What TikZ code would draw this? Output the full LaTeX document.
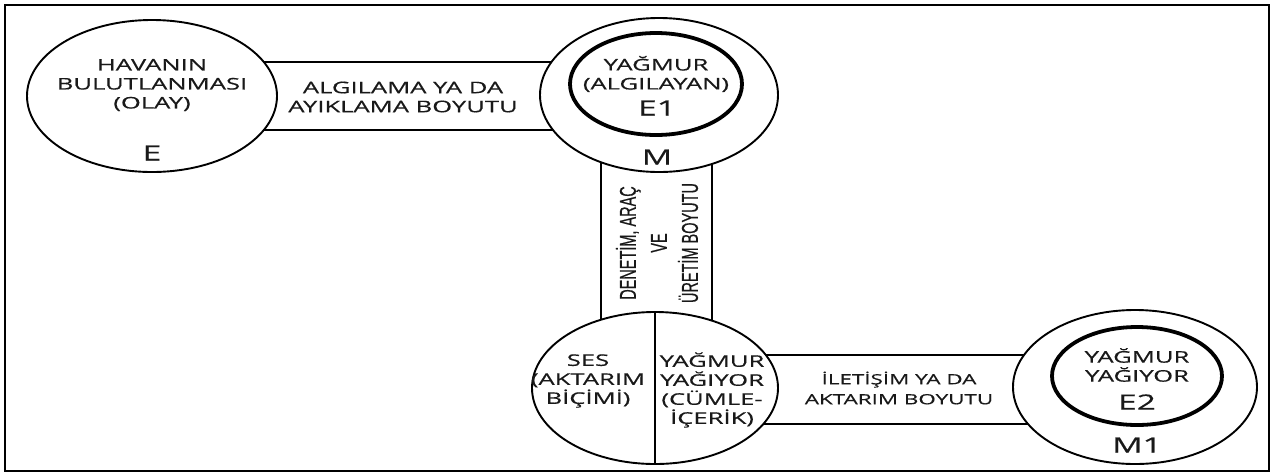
\documentclass[tikz,border=0pt]{standalone}
\usepackage{fontspec}
\setmainfont[FakeStretch=1.6,FakeBold=0.5]{Open Sans}
\newfontfamily\narrowfont[FakeStretch=0.63,FakeBold=0.5]{Liberation Sans}
\usetikzlibrary{shapes.geometric}
\pgfdeclarelayer{bg}
\pgfsetlayers{bg,main}
\begin{document}
\begin{tikzpicture}[x=1pt,y=-1pt,
  oval/.style={ellipse, draw, line width=1.9pt, fill=white, inner sep=0pt},
  core/.style={ellipse, draw, line width=3.8pt, inner sep=0pt},
  band/.style={line width=1.9pt},
  lbl/.style={font=\fontsize{16}{19}\selectfont, align=center, inner sep=0pt, text=black!90},
  sml/.style={font=\fontsize{14}{20}\selectfont, align=center, inner sep=0pt, text=black!90},
  big/.style={font=\fontsize{21}{24}\selectfont, inner sep=0pt, text=black!90},
  vlbl/.style={font=\narrowfont\fontsize{23}{31}\selectfont, align=center, rotate=90, inner sep=0pt, text=black!90}]
\useasboundingbox (0,0) rectangle (1272,475);
\draw[line width=2.5pt] (5,5) rectangle (1269,471);

% event ellipse
\node[oval, minimum width=250pt, minimum height=152pt] (E) at (152,96) {};
\node[lbl] (Et) at (152,85) {HAVANIN\\BULUTLANMASI\\(OLAY)};
\node[big] (El) at (152,153) {E};

% perceiver
\node[oval, minimum width=238pt, minimum height=154pt] (M) at (659,95) {};
\node[core, minimum width=172pt, minimum height=102pt] (E1) at (656,84) {};
\node[lbl] (E1t) at (656,74) {YAĞMUR\\(ALGILAYAN)};
\node[big] (E1l) at (657,108) {E1};
\node[big] (Ml) at (657,157) {M};

% split ellipse
\node[oval, minimum width=246pt, minimum height=152pt] (S) at (655,388) {};
\draw[band] (S.north) -- (S.south);
\node[lbl] (Sl) at (588,381) {SES\\(AKTARIM\\BİÇİMİ)};
\node[lbl] (Sr) at (712,390) {YAĞMUR\\YAĞIYOR\\(CÜMLE-\\İÇERİK)};

% receiver
\node[oval, minimum width=244pt, minimum height=154pt] (M1) at (1135,387) {};
\node[core, minimum width=170pt, minimum height=98pt] (E2) at (1137,376) {};
\node[lbl] (E2t) at (1137,365) {YAĞMUR\\YAĞIYOR};
\node[big] (E2l) at (1137,402) {E2};
\node[big] (M1l) at (1137,445) {M1};

% band labels
\node[lbl] (B1) at (403,97) {ALGILAMA YA DA\\AYIKLAMA BOYUTU};
\node[sml] (B2) at (899,388) {İLETİŞİM YA DA\\AKTARIM BOYUTU};
\node[vlbl] (B3) at (657,243) {DENETİM, ARAÇ\\VE\\ÜRETİM BOYUTU};

\begin{pgfonlayer}{bg}
\draw[band] (E.center |- 0,62) -- (M.center |- 0,62);
\draw[band] (E.center |- 0,130) -- (M.center |- 0,130);
\draw[band] (M.center -| 601,0) -- (S.center -| 601,0);
\draw[band] (M.center -| 712,0) -- (S.center -| 712,0);
\draw[band] (S.center |- 0,355) -- (M1.center |- 0,355);
\draw[band] (S.center |- 0,424) -- (M1.center |- 0,424);
\end{pgfonlayer}
\end{tikzpicture}
\end{document}
